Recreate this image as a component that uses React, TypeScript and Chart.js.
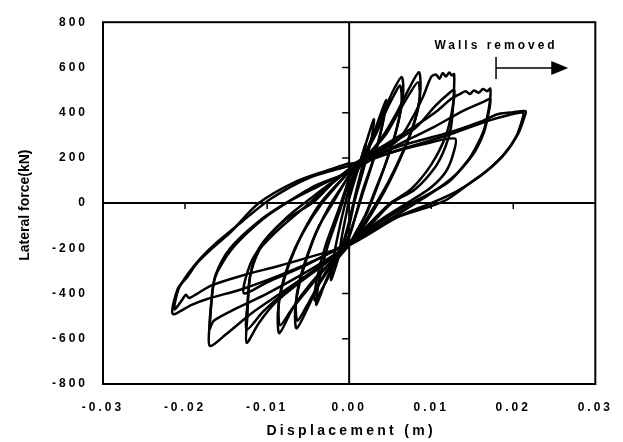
import React, { useEffect, useRef } from "react";
import { Chart, registerables } from "chart.js";

Chart.register(...registerables);

// Tick values
const xTickValues = [-0.03, -0.02, -0.01, 0.0, 0.01, 0.02, 0.03];
const yTickValues = [-800, -600, -400, -200, 0, 200, 400, 600, 800];

// Hysteresis cycles: displacement (m) and lateral force (kN)
const c1Disp = [0.0, 0.001, 0.002, 0.0017, 0.0009, 0.0, -0.0006, -0.0012, -0.0009, -0.0002, 0.0];
const c1Force = [20, 140, 260, 180, 60, -80, -160, -230, -150, -20, 30];

const c2Disp = [0.0, 0.0015, 0.003, 0.0027, 0.0016, 0.0006, 0.0, -0.0012, -0.0022, -0.0019, -0.001, 0.0];
const c2Force = [40, 200, 370, 280, 130, 0, -100, -230, -340, -240, -80, 70];

const c3Disp = [0.0, 0.0015, 0.003, 0.0045, 0.0042, 0.0032, 0.0018, 0.0, -0.0015, -0.0028, -0.004, -0.0037, -0.0027, -0.0012, 0.0];
const c3Force = [70, 180, 310, 455, 370, 220, 60, -140, -240, -340, -450, -350, -200, -40, 100];

const c3bDisp = [0.0, 0.0018, 0.0032, 0.0043, 0.004, 0.003, 0.0016, 0.0, -0.0016, -0.003, -0.0042, -0.0039, -0.0029, -0.0013, 0.0];
const c3bForce = [90, 200, 320, 420, 340, 200, 50, -150, -260, -360, -430, -330, -190, -30, 110];

const c4Disp = [0.0, 0.0015, 0.003, 0.0042, 0.0054, 0.0064, 0.0066, 0.0063, 0.0056, 0.0045, 0.0033, 0.0022, 0.001, 0.0, -0.002, -0.0036, -0.005, -0.0064, -0.0066, -0.0062, -0.0053, -0.004, -0.0022, 0.0];
const c4Force = [110, 190, 290, 400, 500, 558, 500, 410, 300, 180, 60, -40, -120, -180, -260, -350, -460, -554, -480, -380, -260, -130, 0, 120];

const c4bDisp = [0.0, 0.0016, 0.0032, 0.0044, 0.0055, 0.0062, 0.0064, 0.0061, 0.0054, 0.0043, 0.0031, 0.002, 0.0009, 0.0, -0.002, -0.0037, -0.0051, -0.0063, -0.0065, -0.0061, -0.0051, -0.0038, -0.002, 0.0];
const c4bForce = [120, 200, 300, 400, 480, 520, 460, 380, 280, 160, 50, -50, -125, -185, -270, -360, -450, -520, -450, -350, -230, -110, 0, 125];

const c5Disp = [0.0, 0.002, 0.004, 0.0058, 0.0072, 0.0085, 0.0087, 0.0084, 0.0076, 0.0064, 0.005, 0.0035, 0.0018, 0.0, -0.0025, -0.0048, -0.0068, -0.0085, -0.0087, -0.0083, -0.0073, -0.0058, -0.0035, 0.0];
const c5Force = [125, 200, 290, 400, 500, 579, 510, 420, 320, 210, 100, 0, -100, -185, -270, -360, -460, -575, -490, -380, -260, -140, 0, 140];

const c5bDisp = [0.0, 0.0022, 0.0044, 0.006, 0.0073, 0.0084, 0.0086, 0.0082, 0.0074, 0.0062, 0.0048, 0.0033, 0.0016, 0.0, -0.0027, -0.005, -0.007, -0.0084, -0.0086, -0.0081, -0.0071, -0.0056, -0.0033, 0.0];
const c5bForce = [135, 210, 300, 400, 480, 535, 470, 390, 300, 200, 95, 0, -100, -185, -280, -380, -470, -540, -460, -360, -250, -130, 0, 140];

const c6Disp = [0.0, 0.003, 0.006, 0.0076, 0.009, 0.01, 0.0106, 0.011, 0.0114, 0.0118, 0.0122, 0.0125, 0.0128, 0.0127, 0.0124, 0.0117, 0.0105, 0.008, 0.0052, 0.0025, 0.0, -0.003, -0.006, -0.009, -0.011, -0.0125, -0.0124, -0.0121, -0.011, -0.008, -0.0045, -0.002, 0.0];
const c6Force = [140, 210, 280, 370, 470, 558, 568, 550, 575, 560, 578, 565, 570, 450, 333, 246, 160, 60, 0, -100, -186, -270, -350, -440, -530, -618, -500, -330, -200, -80, 0, 90, 150];

const c7Disp = [0.0, 0.004, 0.008, 0.0105, 0.012, 0.0128, 0.0126, 0.0118, 0.01, 0.0075, 0.005, 0.0025, 0.0, -0.004, -0.008, -0.0105, -0.0125, -0.0124, -0.012, -0.0105, -0.0075, -0.004, 0.0];
const c7Force = [150, 240, 330, 430, 480, 500, 420, 300, 170, 60, 0, -90, -180, -290, -400, -480, -560, -450, -310, -180, -60, 40, 150];

const c8Disp = [0.0, 0.004, 0.008, 0.0108, 0.0124, 0.0136, 0.0142, 0.0147, 0.0152, 0.0158, 0.0163, 0.0168, 0.0172, 0.0171, 0.0165, 0.0157, 0.0145, 0.012, 0.0076, 0.004, 0.0, -0.004, -0.008, -0.012, -0.015, -0.017, -0.0169, -0.0166, -0.016, -0.014, -0.0105, -0.0077, -0.004, 0.0];
const c8Force = [160, 250, 340, 410, 460, 484, 495, 482, 498, 488, 505, 495, 506, 437, 333, 264, 190, 90, 0, -80, -186, -290, -390, -490, -580, -631, -500, -370, -300, -190, -70, 0, 80, 134];

const c9Disp = [0.0, 0.005, 0.01, 0.014, 0.0165, 0.0172, 0.017, 0.0164, 0.015, 0.0125, 0.009, 0.005, 0.0, -0.005, -0.01, -0.014, -0.0165, -0.017, -0.0168, -0.0163, -0.0145, -0.011, -0.0077, -0.004, 0.0];
const c9Force = [134, 240, 330, 410, 450, 460, 400, 310, 210, 110, 20, -70, -186, -300, -400, -470, -520, -555, -440, -320, -200, -80, 0, 70, 140];

const c10Disp = [0.0, 0.0012, 0.006, 0.0121, 0.016, 0.0181, 0.02, 0.0215, 0.0214, 0.0206, 0.019, 0.0169, 0.0148, 0.012, 0.01, 0.006, 0.002, 0.0, -0.004, -0.0085, -0.013, -0.0173, -0.0192, -0.0215, -0.0209, -0.0198, -0.0185, -0.0167, -0.0146, -0.011, -0.0065, -0.0025, 0.0];
const c10Force = [172, 182, 250, 311, 360, 393, 402, 406, 385, 307, 220, 147, 91, 17, -13, -60, -134, -177, -250, -320, -380, -424, -450, -490, -380, -330, -264, -200, -134, 0, 95, 147, 177];

const c11Disp = [0.0, 0.006, 0.012, 0.017, 0.0195, 0.0212, 0.0211, 0.0203, 0.0185, 0.016, 0.013, 0.01, 0.006, 0.0, -0.004, -0.0085, -0.013, -0.0167, -0.0185, -0.0195, -0.0199, -0.0203, -0.0213, -0.0208, -0.0196, -0.018, -0.016, -0.013, -0.0095, -0.005, 0.0];
const c11Force = [160, 235, 300, 365, 390, 400, 370, 290, 200, 120, 50, 0, -60, -186, -230, -277, -320, -363, -400, -420, -405, -425, -470, -380, -310, -240, -170, -80, 20, 110, 165];

const c12Disp = [0.0, 0.004, 0.009, 0.0129, 0.0127, 0.0118, 0.01, 0.0075, 0.004, 0.0, -0.005, -0.01, -0.0128, -0.0126, -0.0115, -0.009, -0.0055, -0.002, 0.0];
const c12Force = [150, 210, 260, 285, 220, 140, 70, 10, -70, -170, -270, -350, -400, -330, -230, -130, -20, 90, 150];

const cycleDisp = [c1Disp, c2Disp, c3Disp, c3bDisp, c4Disp, c4bDisp, c5Disp, c5bDisp, c6Disp, c7Disp, c8Disp, c9Disp, c10Disp, c11Disp, c12Disp];
const cycleForce = [c1Force, c2Force, c3Force, c3bForce, c4Force, c4bForce, c5Force, c5bForce, c6Force, c7Force, c8Force, c9Force, c10Force, c11Force, c12Force];

// Annotation ("Walls removed") in data units
const wallsLabel = "Walls removed";
const wallsX = 0.0179;
const wallsArrowEndX = 0.0267;
const wallsArrowY = 597;
const wallsLabelY = 696;

const xTitle = "Displacement (m)";
const yTitle = "Lateral force(kN)";

export default function App() {
  const ref = useRef<HTMLCanvasElement>(null);

  useEffect(() => {
    document.body.style.margin = "0";
    const canvas = ref.current;
    if (!canvas) return;
    const ctx = canvas.getContext("2d");
    if (!ctx) return;

    const decorPlugin = {
      id: "decor",
      beforeDraw(chart: any) {
        (chart.ctx as any).letterSpacing = "3px";
      },
      beforeDatasetsDraw(chart: any) {
        const c = chart.ctx;
        const xs = chart.scales.x;
        const ys = chart.scales.y;
        const { left, right, top, bottom } = chart.chartArea;
        const x0 = xs.getPixelForValue(0);
        const y0 = ys.getPixelForValue(0);
        c.save();
        c.strokeStyle = "#000";
        c.lineWidth = 2;
        c.beginPath();
        c.moveTo(left, y0);
        c.lineTo(right, y0);
        c.moveTo(x0, top);
        c.lineTo(x0, bottom);
        c.stroke();
        c.lineWidth = 1.5;
        c.beginPath();
        yTickValues.forEach((v) => {
          if (v === 0 || v === -800 || v === 800) return;
          const py = ys.getPixelForValue(v);
          c.moveTo(x0 - 7, py);
          c.lineTo(x0, py);
        });
        xTickValues.forEach((v) => {
          if (v === 0 || Math.abs(v) > 0.025) return;
          const px = xs.getPixelForValue(v);
          c.moveTo(px, y0);
          c.lineTo(px, y0 + 6);
        });
        c.stroke();
        c.restore();
      },
      afterDraw(chart: any) {
        const c = chart.ctx;
        const xs = chart.scales.x;
        const ys = chart.scales.y;
        const { left, right, top, bottom } = chart.chartArea;
        c.save();
        // frame
        c.strokeStyle = "#000";
        c.lineWidth = 2;
        c.strokeRect(left, top, right - left, bottom - top);

        // walls removed annotation
        const bx = xs.getPixelForValue(wallsX);
        const ex = xs.getPixelForValue(wallsArrowEndX);
        const ay = ys.getPixelForValue(wallsArrowY);
        c.lineWidth = 1.5;
        c.beginPath();
        c.moveTo(bx, ay - 11);
        c.lineTo(bx, ay + 11);
        c.moveTo(bx, ay);
        c.lineTo(ex - 14, ay);
        c.stroke();
        c.fillStyle = "#000";
        c.beginPath();
        c.moveTo(ex, ay);
        c.lineTo(ex - 17, ay - 7);
        c.lineTo(ex - 17, ay + 7);
        c.closePath();
        c.fill();

        c.textAlign = "center";
        c.textBaseline = "middle";
        (c as any).letterSpacing = "3px";
        c.font = "bold 12px Arial, 'Liberation Sans', sans-serif";
        c.fillText(wallsLabel, bx, ys.getPixelForValue(wallsLabelY));

        // axis titles
        (c as any).letterSpacing = "3.3px";
        c.font = "bold 14px Arial, 'Liberation Sans', sans-serif";
        c.fillText(xTitle, (left + right) / 2 + 2, 431);

        (c as any).letterSpacing = "0px";
        c.font = "bold 14px Arial, 'Liberation Sans', sans-serif";
        c.translate(25, (top + bottom) / 2 + 2);
        c.rotate(-Math.PI / 2);
        c.fillText(yTitle, 0, 0);
        c.restore();
      },
    };

    const datasets = cycleDisp.map((disp, i) => ({
      label: `Cycle ${i + 1}`,
      data: disp.map((x, j) => ({ x, y: cycleForce[i][j] })),
      showLine: true,
      borderColor: "#000",
      backgroundColor: "#000",
      borderWidth: 2.5,
      pointRadius: 0,
      tension: 0.28,
      fill: false,
    }));

    const tickFont = { family: "Arial, 'Liberation Sans', sans-serif", size: 12, weight: "bold" as const };

    const chart = new Chart(ctx, {
      type: "scatter",
      data: { datasets },
      plugins: [decorPlugin],
      options: {
        responsive: false,
        animation: false,
        events: [],
        layout: { padding: { top: 14, right: 25, left: 0, bottom: 0 } },
        plugins: {
          legend: { display: false },
          tooltip: { enabled: false },
        },
        scales: {
          x: {
            type: "linear",
            min: -0.03,
            max: 0.03,
            afterBuildTicks: (scale: any) => {
              scale.ticks = xTickValues.map((v) => ({ value: v }));
            },
            afterFit: (scale: any) => {
              scale.height = 58;
            },
            grid: { display: false, drawTicks: false },
            border: { display: false },
            ticks: {
              color: "#000",
              font: tickFont,
              padding: 16,
              maxRotation: 0,
              autoSkip: false,
              callback: (v: any) => Number(v).toFixed(2),
            },
            title: { display: false },
          },
          y: {
            type: "linear",
            min: -800,
            max: 800,
            afterBuildTicks: (scale: any) => {
              scale.ticks = yTickValues.map((v) => ({ value: v }));
            },
            afterFit: (scale: any) => {
              scale.width = 103;
            },
            grid: { display: false, drawTicks: false },
            border: { display: false },
            ticks: {
              color: "#000",
              font: tickFont,
              padding: 15,
              autoSkip: false,
              callback: (v: any) => String(v),
            },
            title: { display: false },
          },
        },
      },
    } as any);

    return () => chart.destroy();
  }, []);

  return (
    <canvas
      ref={ref}
      width={623}
      height={442}
      style={{ display: "block", width: "623px", height: "442px" }}
    />
  );
}
